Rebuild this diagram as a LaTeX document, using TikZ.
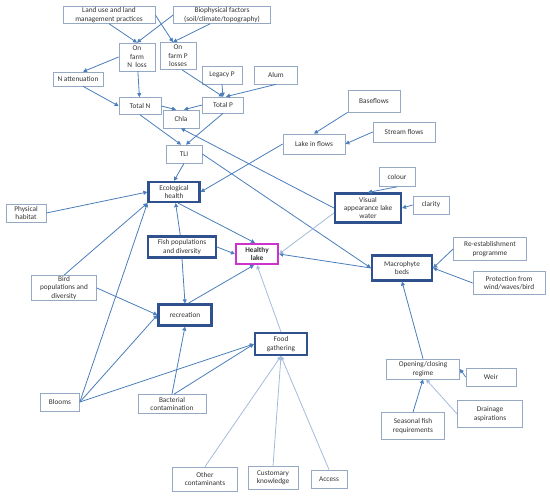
\documentclass[tikz,border=0pt]{standalone}
\usepackage{fontspec}
\setmainfont{Carlito}
\usepackage{xcolor}
\usetikzlibrary{arrows.meta}
\definecolor{arrowblue}{HTML}{4A7EBB}
\definecolor{faintblue}{HTML}{A3BCDB}
\definecolor{navy}{HTML}{2F528F}
\definecolor{thinedge}{HTML}{95A9C4}
\definecolor{goalpink}{HTML}{CC33CC}
\definecolor{inktext}{HTML}{333333}

\begin{document}
\begin{tikzpicture}[x=1pt, y=-1pt,
    every node/.style={font=\fontsize{7.3}{8.4}\selectfont, text=inktext, align=center, inner sep=1pt},
    box/.style={draw=thinedge, line width=0.7pt, fill=white},
    keybox/.style={draw=navy, line width=2.2pt, fill=white},
    goalbox/.style={draw=goalpink, line width=2.2pt, fill=white},
    arr/.style={-{Triangle[length=4pt,width=4pt]}, draw=arrowblue, line width=0.8pt},
    faint/.style={arr, draw=faintblue}]
      \useasboundingbox (0, 0) rectangle (550, 497);
      \node[box, minimum width=92pt, minimum height=16pt] (landuse) at (109, 15) {Land use and land\\management practices};
      \node[box, minimum width=97pt, minimum height=17pt] (biophys) at (222, 15) {Biophysical factors\\(soil/climate/topography)};
      \node[box, minimum width=36pt, minimum height=28pt] (nloss) at (137, 57) {On\\farm\\N\ \ loss};
      \node[box, minimum width=36pt, minimum height=27pt] (ploss) at (178, 56) {On\\farm P\\losses};
      \node[box, minimum width=50pt, minimum height=14pt] (natt) at (78, 79) {N attenuation};
      \node[box, minimum width=40pt, minimum height=18pt] (legacy) at (222, 75) {Legacy P};
      \node[box, minimum width=43pt, minimum height=18pt] (alum) at (276, 75) {Alum};
      \node[box, minimum width=42pt, minimum height=17pt] (totaln) at (140, 106) {Total N};
      \node[box, minimum width=41pt, minimum height=16pt] (totalp) at (223, 105) {Total P};
      \node[box, minimum width=36pt, minimum height=18pt] (chla) at (181, 119) {Chla};
      \node[box, minimum width=36pt, minimum height=18pt] (tli) at (184, 154) {TLI};
      \node[box, minimum width=52pt, minimum height=22pt] (baseflows) at (374, 101) {Baseflows};
      \node[box, minimum width=62pt, minimum height=20pt] (streamflows) at (404, 132) {Stream flows};
      \node[box, minimum width=62pt, minimum height=20pt] (lakein) at (314, 144) {Lake in flows};
      \node[keybox, minimum width=51pt, minimum height=20pt] (ecohealth) at (174, 192) {Ecological\\health};
      \node[box, minimum width=40pt, minimum height=18pt] (physical) at (26, 213) {Physical\\habitat};
      \node[keybox, minimum width=66pt, minimum height=29pt] (visual) at (368, 208) {Visual\\appearance lake\\water};
      \node[box, minimum width=36pt, minimum height=19pt] (colour) at (397, 177) {colour};
      \node[box, minimum width=36pt, minimum height=18pt] (clarity) at (431, 205) {clarity};
      \node[keybox, minimum width=68pt, minimum height=21pt] (fish) at (182, 247) {Fish populations\\and diversity};
      \node[goalbox, minimum width=42pt, minimum height=20pt] (healthy) at (257, 254) {\textbf{Healthy}\\\textbf{lake}};
      \node[box, minimum width=65pt, minimum height=24pt] (bird) at (64, 288) {Bird\\populations and\\diversity};
      \node[keybox, minimum width=53pt, minimum height=21pt] (recreation) at (185, 315) {recreation};
      \node[keybox, minimum width=60pt, minimum height=25pt] (macro) at (402, 268) {Macrophyte\\beds};
      \node[box, minimum width=73pt, minimum height=23pt] (reestab) at (490, 249) {Re-establishment\\programme};
      \node[box, minimum width=72pt, minimum height=23pt] (protect) at (509, 283) {Protection from\\wind/waves/bird};
      \node[keybox, minimum width=52pt, minimum height=22pt] (food) at (281, 344) {Food\\gathering};
      \node[box, minimum width=73pt, minimum height=20pt] (opening) at (423, 369) {Opening/closing\\regime};
      \node[box, minimum width=50pt, minimum height=18pt] (weir) at (491, 377) {Weir};
      \node[box, minimum width=65pt, minimum height=27pt] (drainage) at (490, 414) {Drainage\\aspirations};
      \node[box, minimum width=63pt, minimum height=27pt] (seasonal) at (413, 426) {Seasonal fish\\requirements};
      \node[box, minimum width=39pt, minimum height=18pt] (blooms) at (60, 402) {Blooms};
      \node[box, minimum width=68pt, minimum height=19pt] (bacterial) at (172, 404) {Bacterial\\contamination};
      \node[box, minimum width=65pt, minimum height=24pt] (other) at (205, 479) {Other\\contaminants};
      \node[box, minimum width=50pt, minimum height=23pt] (customary) at (273, 478) {Customary\\knowledge};
      \node[box, minimum width=36pt, minimum height=18pt] (access) at (329, 479) {Access};
      \draw[arr] (landuse.south) to (nloss.north);
      \draw[arr] (biophys.west) to (nloss.north);
      \draw[arr] (landuse.east) to ([xshift=-5pt]ploss.north);
      \draw[arr] ([xshift=-12pt]biophys.south) to ([xshift=-5pt]ploss.north);
      \draw[arr] (nloss.west) to ([xshift=5pt]natt.north);
      \draw[arr] (nloss) to (totaln);
      \draw[arr] ([xshift=5pt]natt.south) to (totaln.west);
      \draw[arr] ([xshift=4pt]ploss.south) to (totalp.north);
      \draw[arr] (legacy.south) to (totalp.north);
      \draw[arr] (alum.south) to ([xshift=3pt]totalp.north);
      \draw[arr] (totaln.east) to ([xshift=-5pt]chla.north);
      \draw[arr] (totalp.west) to ([xshift=3pt]chla.north);
      \draw[arr] (totaln.south) to ([xshift=-3pt]tli.north);
      \draw[arr] (totalp.south) to ([xshift=2pt]tli.north);
      \draw[arr] (visual.west) to (chla.south);
      \draw[arr] (tli.south) to (ecohealth.north);
      \draw[arr] (tli.east) to (macro.west);
      \draw[arr] (baseflows.south west) to (lakein.north);
      \draw[arr] (streamflows.west) to (lakein.east);
      \draw[arr] (lakein.west) to (ecohealth.east);
      \draw[arr] (colour.south) to (visual.north);
      \draw[arr] (clarity.west) to (visual.east);
      \draw[arr] (physical.east) to (ecohealth.west);
      \draw[arr] (bird.north) to (ecohealth.south west);
      \draw[arr] (blooms.east) to (ecohealth.south west);
      \draw[arr] (fish) to (ecohealth);
      \draw[arr] ([xshift=4pt]ecohealth.south) to ([xshift=-2pt]healthy.north);
      \draw[arr] (fish.east) to (healthy.west);
      \draw[arr] (fish.south) to (recreation.north);
      \draw[arr] ([xshift=3pt]recreation.north) to ([xshift=-3pt]healthy.south);
      \draw[arr] (macro.west) to (healthy.east);
      \draw[faint] ([yshift=-5pt]visual.west) to (healthy.east);
      \draw[faint] (food.north) to (healthy.south);
      \draw[arr] (bird.east) to (recreation.west);
      \draw[arr] (blooms.east) to (recreation.west);
      \draw[arr] (blooms.east) to (food.west);
      \draw[arr] (bacterial.north) to (recreation.south);
      \draw[arr] ([xshift=2pt]bacterial.north) to (food.west);
      \draw[faint] (other.north) to (food.south);
      \draw[faint] (customary.north) to (food.south);
      \draw[faint] (access.north) to (food.south);
      \draw[arr] (opening.north) to (macro.south);
      \draw[arr] (reestab.west) to (macro.east);
      \draw[arr] (protect.west) to (macro.east);
      \draw[arr] (weir.west) to (opening.east);
      \draw[arr] (seasonal.north) to (opening.south);
      \draw[faint] (drainage.west) to ([xshift=3pt]opening.south);
    \end{tikzpicture}
\end{document}
